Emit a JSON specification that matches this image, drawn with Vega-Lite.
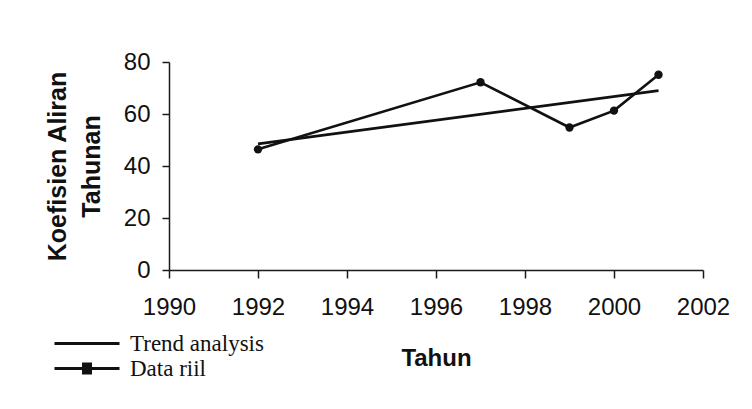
{
  "$schema": "https://vega.github.io/schema/vega-lite/v6.json",
  "width": 534,
  "height": 208,
  "autosize": {"type": "none"},
  "padding": {"left": 169, "top": 62, "right": 49, "bottom": 139},
  "background": "white",
  "config": {
    "view": {"stroke": null},
    "axis": {
      "domainColor": "#1a1a1a",
      "domainWidth": 1.5,
      "tickColor": "#1a1a1a",
      "tickWidth": 1.5,
      "grid": false,
      "labelFont": "Liberation Sans",
      "labelFontSize": 24,
      "labelColor": "#111",
      "labelFlush": false,
      "titleFont": "Liberation Sans",
      "titleFontWeight": "bold",
      "titleColor": "#111"
    }
  },
  "data": {
    "values": [
      {"tahun": 1992, "nilai": 48.5, "seri": "Trend analysis"},
      {"tahun": 2001, "nilai": 69, "seri": "Trend analysis"},
      {"tahun": 1992, "nilai": 46.4, "seri": "Data riil"},
      {"tahun": 1997, "nilai": 72.2, "seri": "Data riil"},
      {"tahun": 1999, "nilai": 54.8, "seri": "Data riil"},
      {"tahun": 2000, "nilai": 61.3, "seri": "Data riil"},
      {"tahun": 2001, "nilai": 75.1, "seri": "Data riil"}
    ]
  },
  "encoding": {
    "x": {
      "field": "tahun",
      "type": "quantitative",
      "scale": {"domain": [1990, 2002], "nice": false, "zero": false},
      "axis": {
        "values": [1990, 1992, 1994, 1996, 1998, 2000, 2002],
        "format": "d",
        "tickSize": 8,
        "labelPadding": 17,
        "title": "Tahun",
        "titleFontSize": 24,
        "titlePadding": 27
      }
    },
    "y": {
      "field": "nilai",
      "type": "quantitative",
      "scale": {"domain": [0, 80], "nice": false},
      "axis": {
        "values": [0, 20, 40, 60, 80],
        "tickSize": 7,
        "labelPadding": 12,
        "title": ["Koefisien Aliran", "Tahunan"],
        "titleFontSize": 25,
        "titleLineHeight": 34,
        "titlePadding": 19
      }
    }
  },
  "layer": [
    {
      "mark": {"type": "line", "strokeWidth": 2.6},
      "encoding": {
        "detail": {"field": "seri"},
        "color": {
          "field": "seri",
          "type": "nominal",
          "scale": {"domain": ["Trend analysis", "Data riil"], "range": ["#111", "#111"]},
          "legend": {
            "title": null,
            "orient": "none",
            "legendX": -93.5,
            "legendY": 270,
            "padding": 0,
            "symbolSize": 400,
            "symbolStrokeWidth": 3,
            "labelFont": "Liberation Serif",
            "labelFontSize": 23,
            "labelColor": "#111",
            "labelOffset": 31.5,
            "rowPadding": 1,
            "encode": {
              "symbols": {
                "update": {
                  "shape": {"signal": "datum.value == 'Data riil' ? 'M-3.25,0H3.25M-0.35,-0.45H0.35V0.45H-0.35Z' : 'M-3.25,0H3.25'"},
                  "fill": {"value": "#111"},
                  "stroke": {"value": "#111"}
                }
              }
            }
          }
        }
      }
    },
    {
      "transform": [{"filter": "datum.seri == 'Data riil'"}],
      "mark": {"type": "point", "filled": true, "shape": "circle", "size": 70, "color": "#111", "opacity": 1}
    }
  ]
}
